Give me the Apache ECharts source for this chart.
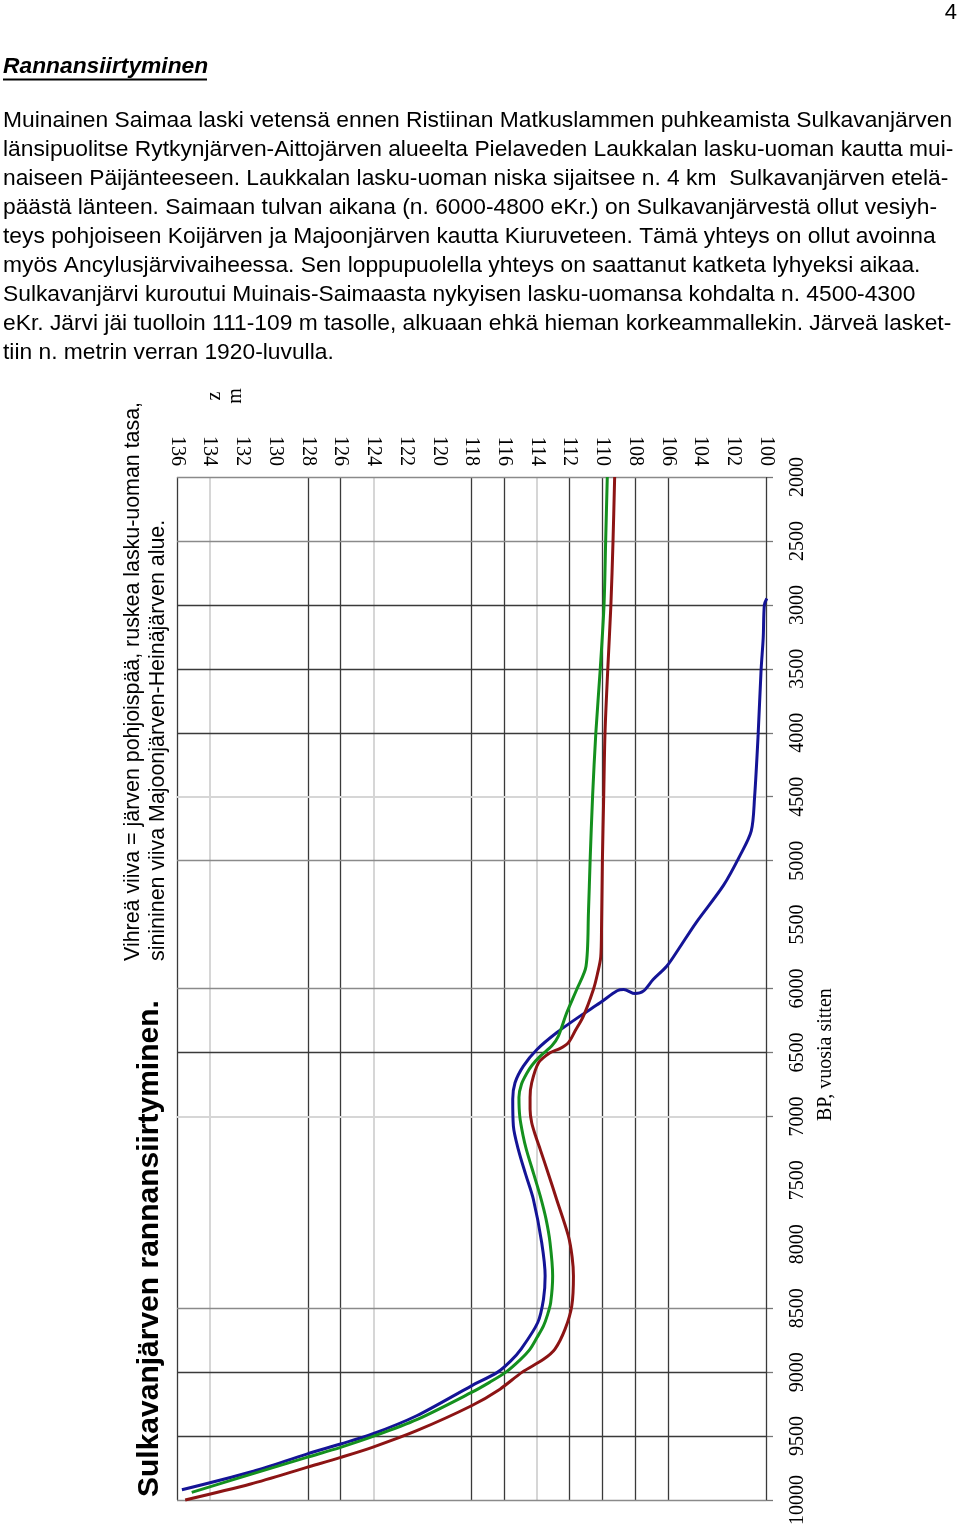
<!DOCTYPE html>
<html><head><meta charset="utf-8">
<script src="https://cdn.jsdelivr.net/npm/echarts@6/dist/echarts.min.js"></script>
<style>html,body{margin:0;padding:0;background:#fff}#c{width:960px;height:1530px}</style>
</head><body><div id="c"></div>
<script>
// ---- page texts ----
const pageNumber = '4';
const heading = 'Rannansiirtyminen';
const paragraphLines = [
  'Muinainen Saimaa laski vetensä ennen Ristiinan Matkuslammen puhkeamista Sulkavanjärven',
  'länsipuolitse Rytkynjärven-Aittojärven alueelta Pielaveden Laukkalan lasku-uoman kautta mui-',
  'naiseen Päijänteeseen. Laukkalan lasku-uoman niska sijaitsee n. 4 km  Sulkavanjärven etelä-',
  'päästä länteen. Saimaan tulvan aikana (n. 6000-4800 eKr.) on Sulkavanjärvestä ollut vesiyh-',
  'teys pohjoiseen Koijärven ja Majoonjärven kautta Kiuruveteen. Tämä yhteys on ollut avoinna',
  'myös Ancylusjärvivaiheessa. Sen loppupuolella yhteys on saattanut katketa lyhyeksi aikaa.',
  'Sulkavanjärvi kuroutui Muinais-Saimaasta nykyisen lasku-uomansa kohdalta n. 4500-4300',
  'eKr. Järvi jäi tuolloin 111-109 m tasolle, alkuaan ehkä hieman korkeammallekin. Järveä lasket-',
  'tiin n. metrin verran 1920-luvulla.'
];
const chartTitle = 'Sulkavanjärven rannansiirtyminen.';
const noteLine1 = 'Vihreä viiva = järven pohjoispää, ruskea lasku-uoman tasa,';
const noteLine2 = 'sinininen viiva Majoonjärven-Heinäjärven alue.';
const zUnitA = 'z';
const zUnitB = 'm';
const bpAxisName = 'BP, vuosia sitten';

// ---- axes ----
const zMin = 100, zMax = 136, zStep = 2;
const bpMin = 2000, bpMax = 10000, bpStep = 500;

// grid lines (values on the axes)
const zLinesDark = [136, 128, 126, 118, 116, 112, 110, 108, 106, 100];
const zLinesLight = [134, 124, 114];
const bpLinesDark = [3000, 3500, 4000, 6500, 9000, 9500];
const bpLinesMid = [2000, 2500, 5000, 6000, 8500, 10000];
const bpLinesLight = [4500, 7000];

// ---- series (BP years, z metres) ----
const greenBP = [2000,2500,3000,3500,4000,4500,5000,5400,5826,6008,6190,6372,6450,6529,6600,6659,6750,6850,7000,7150,7258,7450,7622,7800,7987,8248,8456,8550,8638,8730,8820,8900,9000,9080,9159,9372,9505,9588,9667,9800,9940];
const greenZ  = [109.7,109.8,109.9,110.13,110.4,110.6,110.75,110.85,111.0,111.57,112.18,112.69,113.1,113.8,114.3,114.6,114.95,115.1,115.05,114.85,114.65,114.2,113.8,113.45,113.2,113.04,113.16,113.35,113.6,114.0,114.42,115.0,115.9,116.9,118.0,121.35,124.06,126.0,128.07,131.5,135.1];

const redBP = [2000,2500,3000,3500,4000,4500,5000,5500,5753,5885,6008,6216,6333,6424,6470,6503,6581,6737,6850,6945,7050,7154,7258,7450,7648,7935,8100,8248,8482,8664,8820,8900,9000,9133,9263,9458,9588,9667,9745,9875,10000];
const redZ  = [109.25,109.35,109.48,109.67,109.84,109.92,110.0,110.05,110.1,110.3,110.55,111.16,111.67,112.08,112.6,113.2,113.9,114.32,114.42,114.42,114.32,114.08,113.8,113.3,112.8,112.08,111.85,111.77,111.87,112.28,112.9,113.6,114.9,116.26,118.0,121.35,124.06,126.0,128.07,131.5,135.5];

const blueBP = [2950,3000,3258,3508,4013,4508,4768,4963,5194,5490,5695,5826,5930,6021,6040,6008,6018,6112,6216,6346,6477,6607,6737,6867,7076,7258,7450,7648,7987,8248,8430,8612,8820,8912,9000,9107,9341,9484,9562,9641,9781,9920];
const blueZ  = [99.95,100.1,100.17,100.3,100.48,100.7,100.9,101.6,102.6,104.3,105.36,106.07,106.9,107.5,108.0,108.7,109.1,110.14,111.37,112.8,114.0,114.83,115.34,115.48,115.44,115.14,114.7,114.22,113.71,113.5,113.6,113.95,114.97,115.6,116.4,118.0,121.35,124.06,126.0,128.07,131.5,135.7];

const pairs = (zs, bps) => zs.map((z, i) => [z, bps[i]]);

const cDark = '#3a3a3a', cMid = '#8a8a8a', cLight = '#d6d6d6';

const gridMarks = [];
zLinesDark.forEach(z => gridMarks.push([{coord:[z,bpMin],lineStyle:{color:cDark,width:1.3,type:'solid'}},{coord:[z,bpMax]}]));
zLinesLight.forEach(z => gridMarks.push([{coord:[z,bpMin],lineStyle:{color:cLight,width:2,type:'solid'}},{coord:[z,bpMax]}]));
bpLinesDark.forEach(b => gridMarks.push([{coord:[zMax,b],lineStyle:{color:cDark,width:1.3,type:'solid'}},{coord:[zMin,b]}]));
bpLinesMid.forEach(b => gridMarks.push([{coord:[zMax,b],lineStyle:{color:cMid,width:1.3,type:'solid'}},{coord:[zMin,b]}]));
bpLinesLight.forEach(b => gridMarks.push([{coord:[zMax,b],lineStyle:{color:cLight,width:2,type:'solid'}},{coord:[zMin,b]}]));

const chart = echarts.init(document.getElementById('c'), null, {renderer:'canvas'});

const sans = '"Liberation Sans", Arial, sans-serif';
const serif = '"Liberation Serif", "Times New Roman", serif';

const graphics = [];
graphics.push({type:'text', right:3, top:2, style:{text:pageNumber, font:'22px '+sans, fill:'#000'}});
graphics.push({type:'text', x:3, y:67, style:{text:heading, font:'italic bold 22.8px '+sans, fill:'#000', textAlign:'left', textVerticalAlign:'middle'}});
graphics.push({type:'line', shape:{x1:3, y1:79.5, x2:207, y2:79.5}, style:{stroke:'#000', lineWidth:2}});
paragraphLines.forEach((t, i) => {
  graphics.push({type:'text', x:3, y:121 + i*29, style:{text:t, font:'22.8px '+sans, fill:'#000', textAlign:'left', textVerticalAlign:'middle'}});
});
graphics.push({type:'text', x:150, y:1497, rotation:Math.PI/2, style:{text:chartTitle, font:'bold 30px '+sans, fill:'#000', textAlign:'left', textVerticalAlign:'middle'}});
graphics.push({type:'text', x:133, y:961, rotation:Math.PI/2, style:{text:noteLine1, font:'21.4px '+sans, fill:'#000', textAlign:'left', textVerticalAlign:'middle'}});
graphics.push({type:'text', x:158, y:961, rotation:Math.PI/2, style:{text:noteLine2, font:'21.4px '+sans, fill:'#000', textAlign:'left', textVerticalAlign:'middle'}});
graphics.push({type:'text', x:215, y:396, rotation:Math.PI/2, style:{text:zUnitA, font:'20px '+serif, fill:'#000', textAlign:'center', textVerticalAlign:'middle'}});
graphics.push({type:'text', x:236, y:396, rotation:Math.PI/2, style:{text:zUnitB, font:'20px '+serif, fill:'#000', textAlign:'center', textVerticalAlign:'middle'}});
graphics.push({type:'text', x:826, y:1121, rotation:Math.PI/2, style:{text:bpAxisName, font:'20px '+serif, fill:'#000', textAlign:'left', textVerticalAlign:'middle'}});

const lineSeries = (name, zs, bps, color) => ({
  name, type:'line', data: pairs(zs, bps), showSymbol:false, symbol:'none',
  smooth:0.3, lineStyle:{color, width:3}, itemStyle:{color}, z:5, clip:false, animation:false
});

chart.setOption({
  animation:false,
  backgroundColor:'#fff',
  grid:{left:177, right:194, top:477, bottom:30, containLabel:false},
  xAxis:{
    type:'value', position:'top', min:zMin, max:zMax, interval:zStep, inverse:true,
    axisLine:{show:false}, axisTick:{show:false}, splitLine:{show:false},
    axisLabel:{rotate:90, margin:11, fontFamily:serif, fontSize:20, color:'#000', formatter: v => String(v)}
  },
  yAxis:{
    type:'value', position:'right', min:bpMin, max:bpMax, interval:bpStep, inverse:true,
    axisLine:{show:false}, splitLine:{show:false},
    axisTick:{show:true, length:7, customValues:[...bpLinesDark, ...bpLinesMid, ...bpLinesLight], lineStyle:{color:'#777', width:1.3}},
    axisLabel:{rotate:90, margin:22, fontFamily:serif, fontSize:20, color:'#000', formatter: v => String(v)}
  },
  graphic: graphics,
  series:[
    {type:'line', data:[], z:1, clip:false, silent:true,
     markLine:{silent:true, symbol:['none','none'], label:{show:false}, animation:false, data:gridMarks}},
    lineSeries('Majoonjärven-Heinäjärven alue', blueZ, blueBP, '#141496'),
    lineSeries('lasku-uoman tasa', redZ, redBP, '#8c1414'),
    lineSeries('järven pohjoispää', greenZ, greenBP, '#14901e')
  ]
});
</script>
</body></html>
